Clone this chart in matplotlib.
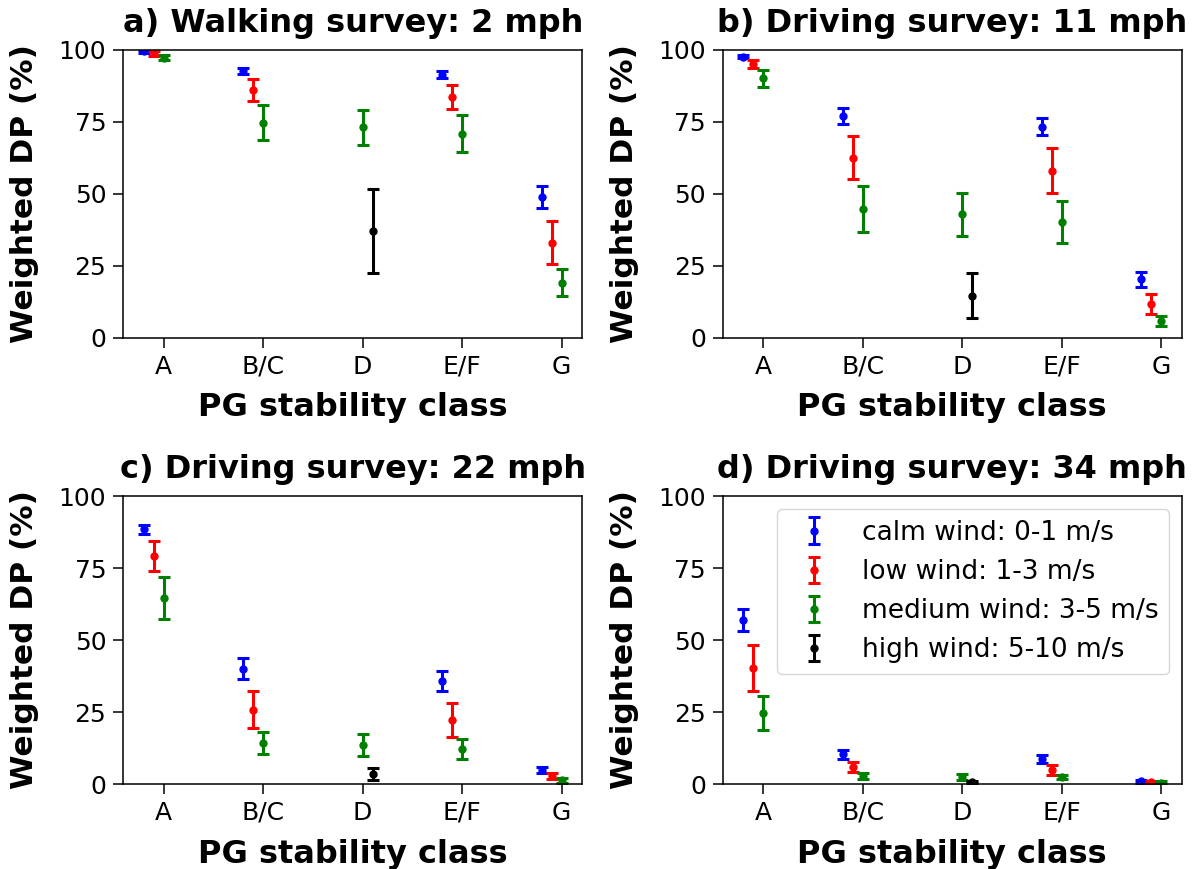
import matplotlib
matplotlib.use('Agg')
import matplotlib.pyplot as plt
import numpy as np

classes = ['A', 'B/C', 'D', 'E/F', 'G']
titles = ['a) Walking survey: 2 mph', 'b) Driving survey: 11 mph',
          'c) Driving survey: 22 mph', 'd) Driving survey: 34 mph']

wind_labels = ['calm wind: 0-1 m/s', 'low wind: 1-3 m/s',
               'medium wind: 3-5 m/s', 'high wind: 5-10 m/s']
wind_colors = ['blue', 'red', 'green', 'black']
wind_offsets = [-0.2, -0.1, 0.0, 0.1]

# weighted DP (%) per panel, per wind class, per stability class (nan = no data)
nan = np.nan
calm_dp = [[99.6, 92.7, nan, 91.4, 49.0],
           [97.7, 77.1, nan, 73.4, 20.3],
           [88.4, 40.1, nan, 35.7, 4.9],
           [56.9, 10.3, nan, 8.7, 0.9]]
calm_err = [[0.5, 0.9, nan, 1.3, 3.9],
            [0.5, 2.8, nan, 3.0, 2.5],
            [1.7, 3.8, nan, 3.4, 1.0],
            [3.8, 1.5, nan, 1.5, 0.4]]

low_dp = [[98.8, 86.1, nan, 83.7, 33.1],
          [95.1, 62.6, nan, 58.1, 11.8],
          [79.2, 25.8, nan, 22.3, 2.8],
          [40.2, 5.8, nan, 4.9, 0.7]]
low_err = [[1.0, 3.8, nan, 4.3, 7.4],
           [1.5, 7.4, nan, 7.8, 3.6],
           [5.2, 6.4, nan, 6.0, 1.0],
           [8.0, 1.7, nan, 1.7, 0.4]]

medium_dp = [[97.3, 74.7, 73.1, 70.9, 19.2],
             [90.2, 44.7, 43.0, 40.3, 5.8],
             [64.5, 14.3, 13.4, 12.1, 1.3],
             [24.6, 2.9, 2.5, 2.5, 0.5]]
medium_err = [[0.9, 6.1, 6.2, 6.5, 4.8],
              [3.0, 7.9, 7.5, 7.4, 1.8],
              [7.3, 3.9, 3.8, 3.5, 0.8],
              [5.8, 1.0, 1.0, 0.8, 0.4]]

high_dp = [[nan, nan, 37.1, nan, nan],
           [nan, nan, 14.7, nan, nan],
           [nan, nan, 3.6, nan, nan],
           [nan, nan, 0.7, nan, nan]]
high_err = [[nan, nan, 14.7, nan, nan],
            [nan, nan, 7.9, nan, nan],
            [nan, nan, 2.1, nan, nan],
            [nan, nan, 0.5, nan, nan]]


def main():
    values = [calm_dp, low_dp, medium_dp, high_dp]
    errors = [calm_err, low_err, medium_err, high_err]

    plt.rcParams['axes.linewidth'] = 1.1
    plt.rcParams['xtick.major.size'] = 7
    plt.rcParams['ytick.major.size'] = 7
    plt.rcParams['xtick.major.width'] = 1.1
    plt.rcParams['ytick.major.width'] = 1.1
    plt.rcParams['xtick.major.pad'] = 5
    plt.rcParams['ytick.major.pad'] = 5

    fig, axes = plt.subplots(2, 2, figsize=(11.99, 8.69), dpi=100)
    fig.subplots_adjust(left=0.1026, right=0.9858, top=0.9425, bottom=0.0978,
                        wspace=0.305, hspace=0.549)

    x = np.arange(len(classes))
    for p, ax in enumerate(axes.flat):
        for w in range(4):
            y = np.array(values[w][p], dtype=float)
            e = np.array(errors[w][p], dtype=float)
            ok = ~np.isnan(y)
            ax.errorbar(x[ok] + wind_offsets[w], y[ok], yerr=e[ok], fmt='.',
                        color=wind_colors[w], markersize=10, elinewidth=2.2,
                        capsize=4.5, capthick=2.2, label=wind_labels[w])
        ax.set_xlim(-0.41, 4.21)
        ax.set_ylim(0, 100)
        ax.set_yticks([0, 25, 50, 75, 100])
        ax.set_xticks(x)
        ax.set_xticklabels(classes)
        ax.tick_params(labelsize=18)
        ax.set_title(titles[p], fontsize=23, fontweight='bold', pad=13)
        ax.set_xlabel('PG stability class', fontsize=23, fontweight='bold',
                      labelpad=10)
        ax.set_ylabel('Weighted DP (%)', fontsize=22.5, fontweight='bold',
                      labelpad=14)

    axes[1, 1].legend(loc='upper right', fontsize=19)

    plt.savefig('out.png')


if __name__ == '__main__':
    main()
